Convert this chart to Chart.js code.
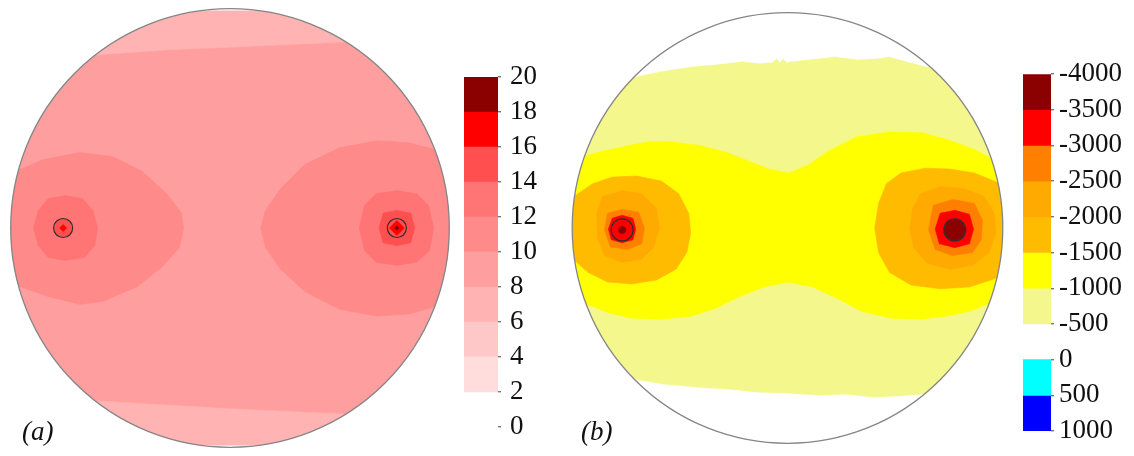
<!DOCTYPE html>
<html>
<head>
<meta charset="utf-8">
<script src="https://cdn.jsdelivr.net/npm/chart.js@4/dist/chart.umd.min.js"></script>
<style>
  html, body { margin: 0; padding: 0; background: #fff; width: 1134px; height: 456px; overflow: hidden; position: relative; }
  canvas { position: absolute; }
  .tag { position: absolute; font-family: 'Liberation Serif', 'Times New Roman', serif; font-style: italic; font-size: 27px; line-height: 27px; color: #111; }
</style>
</head>
<body>
<canvas id="diskA" width="460" height="456" style="left:0;top:0"></canvas>
<canvas id="barA" width="96" height="385" style="left:464px;top:60px"></canvas>
<canvas id="diskB" width="455" height="456" style="left:560px;top:0"></canvas>
<canvas id="barB" width="111" height="385" style="left:1023px;top:60px"></canvas>
<div class="tag" style="left:22px;top:418px">(a)</div>
<div class="tag" style="left:581px;top:418px">(b)</div>
<script>
// ---------- (a) colour scale ----------
const aTicks = [0, 2, 4, 6, 8, 10, 12, 14, 16, 18, 20];
const aBands = [[2, 4], [4, 6], [6, 8], [8, 10], [10, 12], [12, 14], [14, 16], [16, 18], [18, 20]];
const aColors = ['#ffdddd', '#ffc8c8', '#ffb3b3', '#ff9e9e', '#ff8a8a', '#ff7474', '#ff4f4f', '#ff0000', '#8b0000'];

// ---------- (a) contour regions, coordinates in units of disk radius ----------
const aBase = [[-1.1, -1.1], [1.1, -1.1], [1.1, 1.1], [-1.1, 1.1]];
const aTop = [[-0.75, 0.79], [-0.595, 0.797], [-0.288, 0.820], [0.018, 0.833], [0.320, 0.847], [0.514, 0.856], [0.70, 0.86], [0.70, 1.1], [-0.75, 1.1]];
const aBottom = [[-0.75, -0.79], [-0.581, -0.797], [-0.288, -0.815], [0.018, -0.833], [0.320, -0.847], [0.514, -0.856], [0.70, -0.86], [0.70, -1.1], [-0.75, -1.1]];
const aLobeL = [[-1.1, 0.25], [-1.01, 0.248], [-0.955, 0.270], [-0.851, 0.315], [-0.685, 0.347], [-0.536, 0.329], [-0.401, 0.261], [-0.288, 0.158], [-0.221, 0.068], [-0.212, 0], [-0.230, -0.090], [-0.311, -0.180], [-0.423, -0.270], [-0.581, -0.338], [-0.685, -0.351], [-0.829, -0.315], [-0.955, -0.270], [-1.01, -0.248], [-1.1, -0.25]];
const aLobeR = [[1.1, 0.35], [0.973, 0.351], [0.815, 0.392], [0.667, 0.401], [0.500, 0.369], [0.342, 0.293], [0.230, 0.180], [0.162, 0.081], [0.140, 0], [0.162, -0.090], [0.230, -0.189], [0.342, -0.293], [0.500, -0.374], [0.667, -0.405], [0.815, -0.396], [0.973, -0.351], [1.1, -0.35]];
const aSpotL12 = [[-0.748, 0.149], [-0.671, 0.135], [-0.626, 0.081], [-0.604, 0], [-0.617, -0.081], [-0.662, -0.135], [-0.752, -0.149], [-0.829, -0.135], [-0.874, -0.081], [-0.896, 0], [-0.874, 0.081], [-0.829, 0.135]];
const aSpotR12 = [[0.761, 0.171], [0.851, 0.158], [0.905, 0.104], [0.928, 0], [0.910, -0.104], [0.851, -0.158], [0.761, -0.171], [0.667, -0.158], [0.613, -0.104], [0.590, 0], [0.613, 0.104], [0.667, 0.158]];
const aSpotL14 = [[-0.761, 0.042], [-0.733, 0.030], [-0.720, 0], [-0.733, -0.030], [-0.761, -0.042], [-0.789, -0.030], [-0.802, 0], [-0.789, 0.030]];
const aSpotR14 = [[0.761, 0.081], [0.824, 0.068], [0.842, 0], [0.824, -0.068], [0.761, -0.081], [0.698, -0.068], [0.680, 0], [0.698, 0.068]];
const aSpotL16 = [[-0.761, 0.016], [-0.745, 0], [-0.761, -0.016], [-0.777, 0]];
const aSpotR16 = [[0.761, 0.034], [0.795, 0], [0.761, -0.034], [0.727, 0]];
const aSpotR18 = [[0.761, 0.010], [0.771, 0], [0.761, -0.010], [0.751, 0]];
const aHoles = [[-0.761, 0], [0.761, 0]];
// region -> lower edge of its band
const aLayers = [[aBase, 8], [aTop, 6], [aBottom, 6], [aLobeL, 10], [aLobeR, 10], [aSpotL12, 12], [aSpotR12, 12],
                 [aSpotL14, 14], [aSpotR14, 14], [aSpotL16, 16], [aSpotR16, 16], [aSpotR18, 18]];

// ---------- (b) colour scale ----------
const bTicks = [-4000, -3500, -3000, -2500, -2000, -1500, -1000, -500, 0, 500, 1000];
const bBands = [[-4000, -3500], [-3500, -3000], [-3000, -2500], [-2500, -2000], [-2000, -1500], [-1500, -1000], [-1000, -500], [0, 500], [500, 1000]];
const bColors = ['#8b0000', '#ff0000', '#ff8000', '#ffaa00', '#ffbb00', '#ffff00', '#f4f88c', '#00ffff', '#0000ff'];
const blank = '#ffffff';

// ---------- (b) contour regions ----------
const bBase = [[-1.1, -1.1], [1.1, -1.1], [1.1, 1.1], [-1.1, 1.1]];
const bTopWhite = [[-0.80, 0.68], [-0.691, 0.705], [-0.586, 0.727], [-0.436, 0.750], [-0.327, 0.759], [-0.209, 0.773], [-0.132, 0.764], [-0.073, 0.768], [-0.050, 0.786], [-0.036, 0.768], [-0.020, 0.786], [-0.004, 0.768], [0.018, 0.773], [0.141, 0.786], [0.218, 0.795], [0.323, 0.782], [0.414, 0.786], [0.473, 0.795], [0.550, 0.773], [0.641, 0.750], [0.75, 0.727], [0.75, 1.1], [-0.80, 1.1]];
const bBottomWhite = [[-0.80, -0.68], [-0.677, -0.709], [-0.564, -0.727], [-0.405, -0.741], [-0.268, -0.750], [-0.132, -0.764], [0.005, -0.768], [0.141, -0.777], [0.277, -0.773], [0.391, -0.786], [0.505, -0.782], [0.618, -0.773], [0.75, -0.745], [0.75, -1.1], [-0.80, -1.1]];
const bNeck = [[-1.041, 0.309], [-0.950, 0.332], [-0.845, 0.359], [-0.736, 0.382], [-0.645, 0.400], [-0.541, 0.400], [-0.405, 0.382], [-0.282, 0.350], [-0.191, 0.314], [-0.086, 0.273], [0.005, 0.255], [0.095, 0.291], [0.186, 0.355], [0.323, 0.423], [0.473, 0.445], [0.627, 0.441], [0.745, 0.409], [0.868, 0.364], [0.959, 0.318], [1.050, 0.273],
               [1.050, -0.318], [0.959, -0.341], [0.845, -0.386], [0.732, -0.409], [0.618, -0.423], [0.482, -0.418], [0.345, -0.386], [0.232, -0.327], [0.118, -0.273], [0.005, -0.250], [-0.109, -0.273], [-0.223, -0.318], [-0.336, -0.373], [-0.450, -0.409], [-0.586, -0.423], [-0.723, -0.418], [-0.836, -0.391], [-0.927, -0.355], [-1.041, -0.318]];
const bLobeL15 = [[-1.041, 0.114], [-0.973, 0.159], [-0.905, 0.205], [-0.814, 0.236], [-0.700, 0.241], [-0.586, 0.218], [-0.505, 0.159], [-0.459, 0.068], [-0.450, -0.023], [-0.468, -0.114], [-0.518, -0.191], [-0.609, -0.241], [-0.723, -0.259], [-0.836, -0.250], [-0.927, -0.205], [-0.995, -0.145], [-1.041, -0.114]];
const bLobeR15 = [[0.459, 0.205], [0.527, 0.255], [0.641, 0.277], [0.755, 0.273], [0.868, 0.255], [0.959, 0.218], [1.050, 0.182], [1.050, -0.205], [0.959, -0.236], [0.845, -0.273], [0.709, -0.282], [0.573, -0.264], [0.473, -0.205], [0.423, -0.114], [0.405, 0], [0.423, 0.114]];
const bLobeL20 = [[-0.859, 0.145], [-0.768, 0.173], [-0.677, 0.159], [-0.609, 0.091], [-0.595, 0], [-0.623, -0.091], [-0.677, -0.145], [-0.768, -0.159], [-0.850, -0.127], [-0.882, -0.045], [-0.886, 0.068]];
const bLobeR20 = [[0.618, 0.159], [0.709, 0.191], [0.823, 0.182], [0.914, 0.145], [0.959, 0.068], [0.968, -0.023], [0.936, -0.114], [0.859, -0.173], [0.755, -0.191], [0.650, -0.164], [0.586, -0.091], [0.568, 0], [0.582, 0.091]];
const bLobeL25 = [[-0.836, 0.068], [-0.768, 0.086], [-0.691, 0.073], [-0.664, 0], [-0.677, -0.073], [-0.745, -0.100], [-0.823, -0.086], [-0.850, -0.009]];
const bLobeR25 = [[0.677, 0.105], [0.768, 0.132], [0.868, 0.114], [0.905, 0.036], [0.900, -0.055], [0.859, -0.114], [0.768, -0.127], [0.686, -0.100], [0.655, -0.009]];
const bLobeL30 = [[-0.814, 0.045], [-0.768, 0.059], [-0.718, 0.045], [-0.705, -0.005], [-0.718, -0.055], [-0.768, -0.068], [-0.818, -0.055], [-0.832, -0.005]];
const bLobeR30 = [[0.709, 0.068], [0.777, 0.082], [0.845, 0.064], [0.864, -0.005], [0.845, -0.073], [0.777, -0.091], [0.705, -0.073], [0.686, -0.005]];
const bSpotL35 = [[-0.768, 0.009], [-0.755, 0.004], [-0.750, -0.009], [-0.755, -0.022], [-0.768, -0.027], [-0.781, -0.022], [-0.786, -0.009], [-0.781, 0.004]];
const bSpotR35 = [[0.741, 0.032], [0.777, 0.041], [0.814, 0.027], [0.827, -0.009], [0.814, -0.045], [0.777, -0.059], [0.741, -0.045], [0.727, -0.009]];
const bHoles = [[-0.768, -0.009], [0.777, -0.009]];
// region -> lower edge of its band (null: above -500, left blank)
const bLayers = [[bBase, -1000], [bTopWhite, null], [bBottomWhite, null], [bNeck, -1500], [bLobeL15, -2000], [bLobeR15, -2000],
                 [bLobeL20, -2500], [bLobeR20, -2500], [bLobeL25, -3000], [bLobeR25, -3000], [bLobeL30, -3500], [bLobeR30, -3500],
                 [bSpotL35, -4000], [bSpotR35, -4000]];

const serif = "'Liberation Serif', 'Times New Roman', serif";

// clip the contour fill to the disk and outline it
const diskClip = {
  id: 'diskClip',
  beforeDatasetsDraw(chart) {
    const { ctx, scales: { x, y } } = chart;
    const cx = x.getPixelForValue(0), cy = y.getPixelForValue(0);
    const r = x.getPixelForValue(1) - cx;
    ctx.save();
    ctx.beginPath();
    ctx.arc(cx, cy, r, 0, Math.PI * 2);
    ctx.clip();
  },
  afterDatasetsDraw(chart) {
    const { ctx, scales: { x, y } } = chart;
    ctx.restore();
    const cx = x.getPixelForValue(0), cy = y.getPixelForValue(0);
    const r = x.getPixelForValue(1) - cx;
    ctx.save();
    ctx.beginPath();
    ctx.arc(cx, cy, r, 0, Math.PI * 2);
    ctx.strokeStyle = '#858585';
    ctx.lineWidth = 1.3;
    ctx.stroke();
    ctx.restore();
  }
};

function regionSet(shape, color, order) {
  const pts = shape.map(([x, y]) => ({ x, y }));
  pts.push({ ...pts[0] });
  return {
    type: 'line', data: pts, showLine: true, fill: 'shape', tension: 0,
    backgroundColor: color, borderColor: color, borderWidth: 0.6,
    pointRadius: 0, order
  };
}

function holeSet(points, radius) {
  return {
    type: 'scatter', data: points.map(([x, y]) => ({ x, y })),
    pointRadius: radius, pointStyle: 'circle', pointBackgroundColor: 'rgba(0,0,0,0)',
    pointBorderColor: '#2e2e2e', pointBorderWidth: 1.2, order: 0
  };
}

function diskChart(id, layers, colorOf, holes, holeRadius, padding) {
  const n = layers.length;
  const datasets = layers.map(([shape, key], i) => regionSet(shape, colorOf(key), n - i + 1));
  datasets.push(holeSet(holes, holeRadius));
  return new Chart(document.getElementById(id), {
    type: 'scatter',
    data: { datasets },
    options: {
      responsive: false, animation: false, events: [],
      layout: { padding },
      plugins: { legend: { display: false }, tooltip: { enabled: false } },
      scales: {
        x: { type: 'linear', min: -1, max: 1, display: false },
        y: { type: 'linear', min: -1, max: 1, display: false }
      }
    },
    plugins: [diskClip]
  });
}

diskChart('diskA', aLayers, key => aColors[aBands.findIndex(b => b[0] === key)], aHoles, 9.5,
  { left: 7, right: 9, top: 8, bottom: 4 });
diskChart('diskB', bLayers, key => key === null ? blank : bColors[bBands.findIndex(b => b[0] === key)], bHoles, 11,
  { left: 9, right: 6, top: 10, bottom: 6 });

// ---------- colour bars ----------
function barDatasets(bands, colors, toAxis) {
  return bands.map((b, i) => ({
    data: [[toAxis(b[0]), toAxis(b[1])]], backgroundColor: colors[i], borderWidth: 0,
    barPercentage: 1, categoryPercentage: 1, grouped: false
  }));
}

// fixed axis width; the canvas padding alone sets where the end ticks sit
function fitAxis(width) {
  return s => { s.width = width; s.paddingTop = 0; s.paddingBottom = 0; };
}

new Chart(document.getElementById('barA'), {
  type: 'bar',
  data: { labels: [''], datasets: barDatasets(aBands, aColors, v => v) },
  options: {
    responsive: false, animation: false, events: [],
    layout: { padding: { top: 17, bottom: 18, left: 0, right: 0 } },
    plugins: { legend: { display: false }, tooltip: { enabled: false } },
    scales: {
      x: { display: false },
      y: {
        position: 'right', min: aTicks[0], max: aTicks[aTicks.length - 1],
        afterBuildTicks(s) { s.ticks = aTicks.map(v => ({ value: v })); },
        afterFit: fitAxis(62),
        ticks: { autoSkip: false, padding: 9, color: '#111', font: { family: serif, size: 27 } },
        grid: { drawOnChartArea: false, tickLength: 3, color: '#777', lineWidth: 1.4 },
        border: { display: false }
      }
    }
  }
});

new Chart(document.getElementById('barB'), {
  type: 'bar',
  data: { labels: [''], datasets: barDatasets(bBands, bColors, v => bTicks.indexOf(v)) },
  options: {
    responsive: false, animation: false, events: [],
    layout: { padding: { top: 14, bottom: 14, left: 0, right: 0 } },
    plugins: { legend: { display: false }, tooltip: { enabled: false } },
    scales: {
      x: { display: false },
      y: {
        position: 'right', reverse: true, min: 0, max: bTicks.length - 1,
        afterBuildTicks(s) { s.ticks = bTicks.map((v, i) => ({ value: i })); },
        afterFit: fitAxis(83),
        ticks: { autoSkip: false, padding: 5, color: '#111', font: { family: serif, size: 27 },
                 callback: v => String(bTicks[v]) },
        grid: { drawOnChartArea: false, tickLength: 3, color: '#777', lineWidth: 1.4 },
        border: { display: false }
      }
    }
  }
});
</script>
</body>
</html>
